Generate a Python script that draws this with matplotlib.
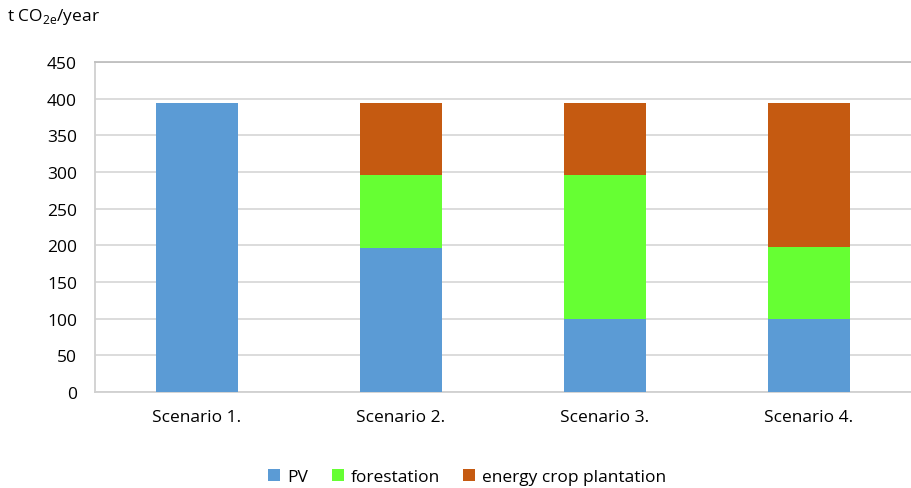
import matplotlib
matplotlib.use("Agg")
import matplotlib.pyplot as plt
import numpy as np

scenarios = ["Scenario 1.", "Scenario 2.", "Scenario 3.", "Scenario 4."]
pv = [394, 197, 99, 99]
forestation = [0, 99, 197, 99]
energy_crop = [0, 98, 98, 196]

plt.rcParams["font.family"] = ["Open Sans", "DejaVu Sans"]

fig = plt.figure(figsize=(9.11, 4.89), dpi=100)
ax = fig.add_axes([0.1043, 0.1963, 0.8957, 0.6749])

x = np.arange(len(scenarios))
w = 0.4
ax.bar(x, pv, w, color="#5B9BD5", label="PV", zorder=3)
ax.bar(x, forestation, w, bottom=pv, color="#66FF33", label="forestation", zorder=3)
bottom2 = [a + b for a, b in zip(pv, forestation)]
ax.bar(x, energy_crop, w, bottom=bottom2, color="#C55A11",
       label="energy crop plantation", zorder=3)

ax.set_xlim(-0.5, len(scenarios) - 0.5)
ax.set_ylim(0, 450)
ax.set_yticks(range(0, 451, 50))
ax.set_xticks(x)
ax.set_xticklabels(scenarios)
ax.tick_params(axis="both", length=0, labelsize=12.5, colors="#000000")
ax.tick_params(axis="y", pad=13)
ax.tick_params(axis="x", pad=12)
ax.grid(axis="y", color="#D9D9D9", lw=1.3, zorder=0)

ax.spines["right"].set_visible(False)
ax.spines["top"].set_color("#BFBFBF")
ax.spines["left"].set_color("#D0D0D0")
ax.spines["bottom"].set_color("#D0D0D0")
for s in ["top", "left", "bottom"]:
    ax.spines[s].set_linewidth(1.3)

fig.text(0.008, 0.965, "t CO$_{\\mathregular{2e}}$/year", fontsize=12.5, va="center", ha="left")

handles, labels = ax.get_legend_handles_labels()
fig.legend(handles, labels, loc="center", bbox_to_anchor=(0.513, 0.0225), ncol=3,
           frameon=False, fontsize=12.5, handlelength=0.7, handleheight=0.7,
           handletextpad=0.4, columnspacing=1.35, borderaxespad=0, borderpad=0)

fig.savefig("out.png", dpi=100)
